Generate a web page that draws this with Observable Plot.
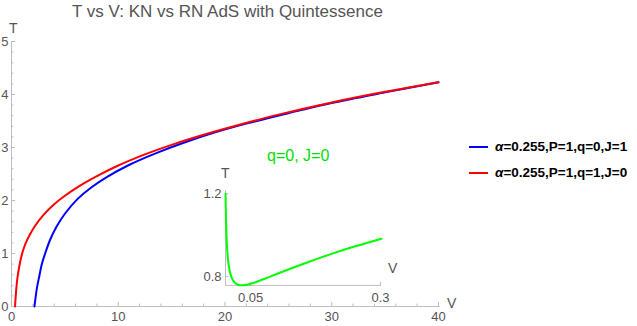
<!DOCTYPE html>
<html><head><meta charset="utf-8">
<script src="https://cdn.jsdelivr.net/npm/d3@7"></script>
<script src="https://cdn.jsdelivr.net/npm/@observablehq/plot@0.6"></script>
<style>
body{margin:0;background:#fff;font-family:"Liberation Sans",Arial,sans-serif}
#wrap{position:relative;width:637px;height:326px;overflow:hidden}
.abs{position:absolute;white-space:nowrap;line-height:1}
</style>
</head><body><div id="wrap"></div>
<script>
// Main curves: V (volume) and T (temperature)
const blueV = [2.15,2.25,2.4,2.6,2.87,3.2,3.6,4.2,5,6.2,7.5,9,11,13.5,16,19,22,26,30,35,40];
const blueT = [0,0.16,0.37,0.57,0.82,1.03,1.25,1.50,1.75,2.03,2.25,2.45,2.67,2.89,3.08,3.28,3.45,3.65,3.84,4.04,4.23];
const redV = [0.333,0.35,0.4,0.5,0.6,0.8,1.0,1.3,1.7,2.2,3,4,5,6.5,8,10,12.5,15,18,21,25,30,35,40];
const redT = [0,0.06,0.21,0.44,0.60,0.83,1.00,1.18,1.35,1.52,1.73,1.93,2.09,2.29,2.46,2.66,2.87,3.05,3.24,3.41,3.62,3.85,4.05,4.23];
// Inset curve (q=0, J=0)
const insetV = [0.0016,0.002,0.0025,0.003,0.004,0.005,0.007,0.01,0.015,0.02,0.027,0.035,0.045,0.06,0.08,0.1,0.13,0.17,0.21,0.25,0.302];
const insetT = [1.20,1.134,1.073,1.028,0.964,0.922,0.867,0.822,0.786,0.769,0.759,0.7575,0.761,0.773,0.792,0.812,0.841,0.878,0.913,0.945,0.983];
// Ticks
const xMajor = [0,10,20,30,40];
const xMinor = [2,4,6,8,12,14,16,18,22,24,26,28,32,34,36,38];
const yMajor = [0,1,2,3,4,5];
const yMinor = [0.2,0.4,0.6,0.8,1.2,1.4,1.6,1.8,2.2,2.4,2.6,2.8,3.2,3.4,3.6,3.8,4.2,4.4,4.6,4.8];
const insetXTicks = [0.05,0.3];
const insetYTicks = [0.8,1.2];
const legendLabels = ["=0.255,P=1,q=0,J=1","=0.255,P=1,q=1,J=0"];
const seriesColors = ["#0000ff","#ff0000"];

const blue = blueV.map((v,i)=>({V:v,T:blueT[i]}));
const red = redV.map((v,i)=>({V:v,T:redT[i]}));
const inset = insetV.map((v,i)=>({V:v,T:insetT[i]}));

const axisColor = "#bdbdbd";
const labelColor = "#555";
const fmt = d => String(d);

const main = Plot.plot({
  width:637, height:326,
  marginLeft:11, marginRight:199, marginTop:41, marginBottom:20,
  x:{domain:[0,40]}, y:{domain:[0,5]},
  style:{background:"transparent", fontFamily:"Liberation Sans, Arial, sans-serif", fontSize:"13px", color:labelColor, overflow:"visible"},
  marks:[
    Plot.ruleY([0],{x1:0,x2:40.15,stroke:axisColor}),
    Plot.ruleX([0],{y1:0,y2:5,stroke:axisColor}),
    Plot.ruleX(xMajor,{x:d=>d,y1:0,y2:0.08,stroke:axisColor}),
    Plot.ruleX(xMinor,{x:d=>d,y1:0,y2:0.045,stroke:axisColor}),
    Plot.ruleY(yMajor,{y:d=>d,x1:0,x2:0.38,stroke:axisColor}),
    Plot.ruleY(yMinor,{y:d=>d,x1:0,x2:0.22,stroke:axisColor}),
    Plot.axisX({ticks:xMajor,tickSize:0,tickPadding:5,label:null,fontSize:13,tickFormat:fmt}),
    Plot.axisY({ticks:yMajor,tickSize:0,tickPadding:3,label:null,fontSize:13,tickFormat:fmt}),
    Plot.line(blue,{x:"V",y:"T",stroke:seriesColors[0],strokeWidth:2,curve:"catmull-rom"}),
    Plot.line(red,{x:"V",y:"T",stroke:seriesColors[1],strokeWidth:2,curve:"catmull-rom"})
  ]
});
main.style.position="absolute"; main.style.left="0px"; main.style.top="0px";

const insetPlot = Plot.plot({
  width:215, height:145,
  marginLeft:30, marginRight:29, marginTop:28.3, marginBottom:25.1,
  x:{domain:[0.0015,0.302]}, y:{domain:[0.757,1.2]},
  style:{background:"transparent", fontFamily:"Liberation Sans, Arial, sans-serif", fontSize:"13px", color:labelColor, overflow:"visible"},
  marks:[
    Plot.ruleY([0.757],{x1:0.0015,x2:0.302,stroke:axisColor}),
    Plot.ruleX([0.0015],{y1:0.757,y2:1.215,stroke:axisColor}),
    Plot.ruleX(insetXTicks,{x:d=>d,y1:0.757,y2:0.772,stroke:axisColor}),
    Plot.ruleY(insetYTicks,{y:d=>d,x1:0.0015,x2:0.0075,stroke:axisColor}),
    Plot.axisX({ticks:insetXTicks,tickSize:0,tickPadding:7,label:null,fontSize:13,tickFormat:fmt}),
    Plot.axisY({ticks:insetYTicks,tickSize:0,tickPadding:4,label:null,fontSize:13,tickFormat:fmt}),
    Plot.line(inset,{x:"V",y:"T",stroke:"#00ff00",strokeWidth:2,curve:"catmull-rom"})
  ]
});
insetPlot.style.position="absolute"; insetPlot.style.left="195px"; insetPlot.style.top="165px";

const wrap = document.getElementById("wrap");
wrap.appendChild(main);
wrap.appendChild(insetPlot);

function addText(txt, css){
  const d=document.createElement("div"); d.className="abs"; d.innerHTML=txt;
  Object.assign(d.style, css); wrap.appendChild(d); return d;
}
addText("T vs V: KN vs RN AdS with Quintessence",{left:"72px",top:"3px",fontSize:"17px",color:labelColor});
addText("T",{left:"9px",top:"21px",fontSize:"14px",color:labelColor});
addText("V",{left:"447px",top:"296px",fontSize:"14px",color:labelColor});
addText("T",{left:"221px",top:"166px",fontSize:"14px",color:labelColor});
addText("V",{left:"388px",top:"261px",fontSize:"14px",color:labelColor});
addText("q=0, J=0",{left:"267px",top:"148px",fontSize:"16px",color:"#00e000"});
legendLabels.forEach((lab,i)=>{
  const y = 147 + i*26;
  const ln=document.createElement("div"); ln.className="abs";
  Object.assign(ln.style,{left:"469px",top:(y-1)+"px",width:"19px",height:"2px",background:seriesColors[i]});
  wrap.appendChild(ln);
  addText("<i>α</i>"+lab,{left:"495px",top:(y-7)+"px",fontSize:"13.5px",fontWeight:"bold",color:"#000"});
});
</script>
</body></html>
